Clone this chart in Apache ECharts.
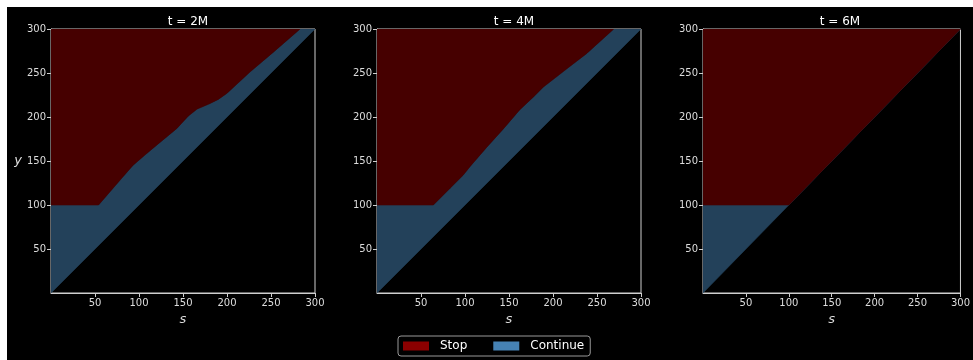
<!DOCTYPE html>
<html>
<head>
<meta charset="utf-8">
<script src="https://cdn.jsdelivr.net/npm/echarts@6/dist/echarts.min.js"></script>
<style>
  html, body { margin: 0; padding: 0; background: #fff; }
  #chart { width: 973px; height: 360px; }
</style>
</head>
<body>
<div id="chart"></div>
<script>
// Panel titles and tick values
const panelTitles = ['t = 2M', 't = 4M', 't = 6M'];
const tickValues = [50, 100, 150, 200, 250, 300];
const axisMin = 0;
const axisMax = 300;

// Stop/continue boundary (s, y) for each horizon; above it = Stop,
// between it and the diagonal y = s = Continue
const boundary2M = [
  [0, 100], [54, 100], [67, 115], [80, 130], [93, 145], [107, 157],
  [120, 168], [143, 187], [156, 201], [166, 209], [180, 215], [190, 220],
  [200, 227], [226, 251], [253, 274], [283, 300]
];
const boundary4M = [
  [0, 100], [64, 100], [83, 119], [98, 134], [106, 144], [125, 166],
  [144, 187], [162, 208], [178, 223], [189, 234], [216, 255], [238, 272],
  [269, 300]
];
const boundary6M = [
  [0, 100], [100, 100], [300, 300]
];
const boundaries = [boundary2M, boundary4M, boundary6M];

const legendNames = ['Stop', 'Continue'];

const STOP_COLOR = '#8b0000';
const CONT_COLOR = '#4682b4';
const STOP_FILL = '#460000';   // darkred at 50% over black
const CONT_FILL = '#23415a';   // steelblue at 50% over black

const gridLefts = [51, 377, 703];
const GRID_TOP = 29;
const GRID_SIZE = 264;
const FONT = '"DejaVu Sans", sans-serif';
const AXIS_COLOR = '#cfcfcf';
const LABEL_COLOR = '#dddddd';

function stopRegion(b) {
  return b.concat([[axisMin, axisMax]]);
}
function continueRegion(b) {
  const pts = [[axisMin, axisMin]].concat(b);
  const last = b[b.length - 1];
  if (last[0] !== axisMax || last[1] !== axisMax) pts.push([axisMax, axisMax]);
  return pts;
}
function regionRenderer(points, fill) {
  return function (params, api) {
    return {
      type: 'polygon',
      shape: { points: points.map(p => api.coord(p)) },
      style: { fill: fill, stroke: fill, lineWidth: 0.6 }
    };
  };
}

const grids = [], xAxes = [], yAxes = [], titles = [], series = [];
gridLefts.forEach((left, i) => {
  grids.push({
    left: left, top: GRID_TOP, width: GRID_SIZE, height: GRID_SIZE,
    show: true, borderColor: AXIS_COLOR, borderWidth: 1, backgroundColor: 'transparent'
  });
  const common = {
    type: 'value', gridIndex: i, min: axisMin, max: axisMax, interval: 50,
    axisLine: { show: true, lineStyle: { color: AXIS_COLOR, width: 1 } },
    axisTick: { show: true, length: 4, customValues: tickValues, lineStyle: { color: AXIS_COLOR } },
    axisLabel: { customValues: tickValues, color: LABEL_COLOR, fontSize: 10, fontFamily: FONT, margin: 5 },
    splitLine: { show: false }
  };
  xAxes.push(Object.assign({}, common, {
    name: 's', nameLocation: 'middle', nameGap: 19,
    nameTextStyle: { color: LABEL_COLOR, fontSize: 13, fontStyle: 'italic', fontFamily: FONT }
  }));
  const y = Object.assign({}, common);
  if (i === 0) {
    Object.assign(y, {
      name: 'y', nameLocation: 'middle', nameGap: 28, nameRotate: 0,
      nameTextStyle: { color: LABEL_COLOR, fontSize: 13, fontStyle: 'italic', fontFamily: FONT,
                       padding: [0, 0, 10, 0] }
    });
  }
  yAxes.push(y);
  titles.push({
    text: panelTitles[i], left: left + GRID_SIZE / 2, top: 11, textAlign: 'center',
    textStyle: { color: '#ffffff', fontSize: 12, fontWeight: 'normal', fontFamily: FONT }
  });
  const b = boundaries[i];
  series.push({
    name: legendNames[1], type: 'custom', xAxisIndex: i, yAxisIndex: i,
    clip: true, itemStyle: { color: CONT_COLOR }, silent: true,
    renderItem: regionRenderer(continueRegion(b), CONT_FILL), data: [[0, 0]]
  });
  series.push({
    name: legendNames[0], type: 'custom', xAxisIndex: i, yAxisIndex: i,
    clip: true, itemStyle: { color: STOP_COLOR }, silent: true,
    renderItem: regionRenderer(stopRegion(b), STOP_FILL), data: [[0, 0]]
  });
});

const chart = echarts.init(document.getElementById('chart'), null, { renderer: 'canvas' });
chart.setOption({
  backgroundColor: '#ffffff',
  animation: false,
  graphic: [{
    type: 'rect', z: -100, silent: true,
    shape: { x: 7, y: 7, width: 966, height: 353 },
    style: { fill: '#000000' }
  }],
  title: titles,
  grid: grids,
  xAxis: xAxes,
  yAxis: yAxes,
  legend: {
    data: legendNames,
    left: 398, top: 336,
    orient: 'horizontal',
    icon: 'rect', itemWidth: 26, itemHeight: 9, itemGap: 26,
    padding: [4, 6, 4, 5],
    borderColor: '#999999', borderWidth: 1, borderRadius: 3,
    backgroundColor: '#000000',
    selectedMode: false,
    textStyle: { color: '#ffffff', fontSize: 12, fontFamily: FONT, padding: [0, 1, 0, 6] }
  },
  series: series
});
</script>
</body>
</html>
